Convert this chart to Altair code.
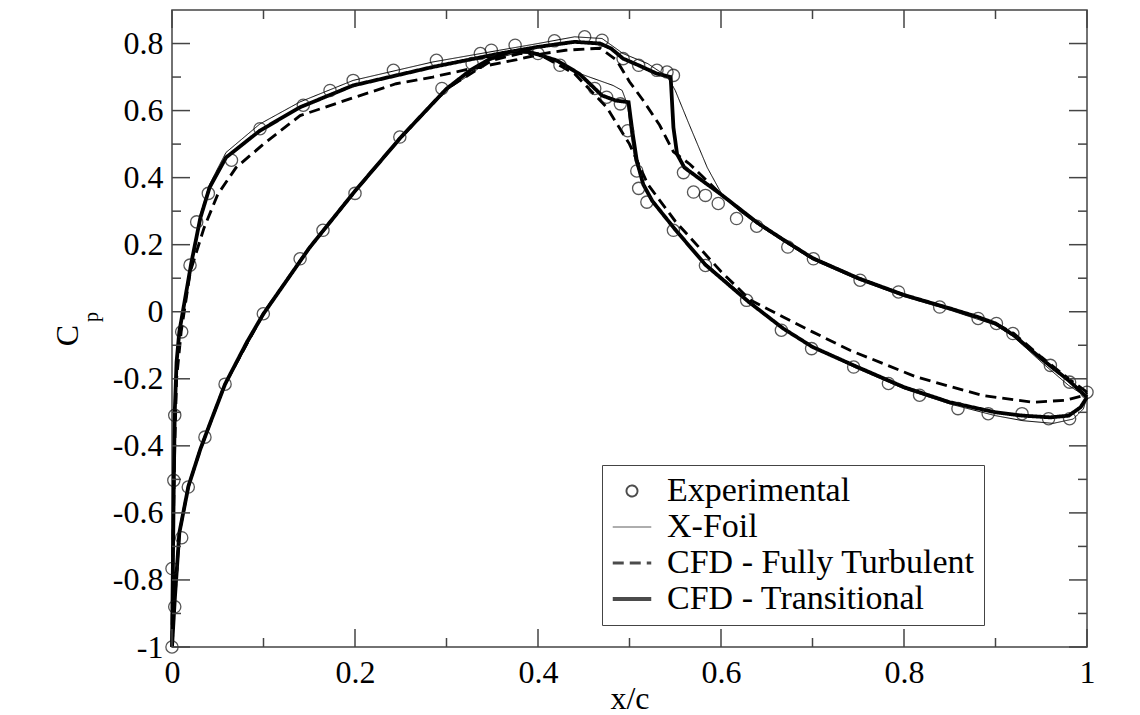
import altair as alt
import pandas as pd

FONT = "Liberation Serif"
FRAME = "#444444"

SERIES = ["Experimental", "X-Foil", "CFD - Fully Turbulent", "CFD - Transitional"]
SCALE_ORDER = ["X-Foil", "Experimental", "CFD - Fully Turbulent", "CFD - Transitional"]

# Experimental Cp data (upper then lower surface)
exp_x = [0.0, 0.003, 0.0, 0.002, 0.003, 0.0106, 0.0197, 0.027, 0.0397, 0.065, 0.0962, 0.1435,
         0.1727, 0.198, 0.242, 0.289, 0.337, 0.349, 0.375, 0.418, 0.451, 0.470, 0.493, 0.51,
         0.53, 0.541, 0.548, 0.559, 0.57, 0.583, 0.597, 0.617, 0.639, 0.673, 0.701, 0.752,
         0.794, 0.839, 0.881, 0.901, 0.919, 0.96, 0.981, 1.0,
         0.0106, 0.0178, 0.036, 0.058, 0.0998, 0.14, 0.165, 0.2, 0.249, 0.295, 0.328, 0.40,
         0.424, 0.462, 0.475, 0.49, 0.498, 0.508, 0.51, 0.519, 0.548, 0.583, 0.628, 0.666,
         0.699, 0.745, 0.783, 0.817, 0.859, 0.892, 0.929, 0.958, 0.981]
exp_y = [-1.0, -0.88, -0.766, -0.503, -0.309, -0.06, 0.139, 0.268, 0.353, 0.452, 0.546, 0.616,
         0.66, 0.69, 0.72, 0.75, 0.77, 0.78, 0.795, 0.808, 0.82, 0.81, 0.755, 0.735,
         0.72, 0.715, 0.705, 0.415, 0.357, 0.347, 0.323, 0.278, 0.255, 0.193, 0.158, 0.094,
         0.059, 0.014, -0.02, -0.035, -0.065, -0.16, -0.21, -0.24,
         -0.674, -0.523, -0.374, -0.216, -0.006, 0.158, 0.243, 0.353, 0.521, 0.666, 0.74, 0.77,
         0.735, 0.666, 0.64, 0.62, 0.54, 0.42, 0.368, 0.327, 0.243, 0.138, 0.034, -0.055,
         -0.11, -0.165, -0.214, -0.249, -0.289, -0.304, -0.304, -0.319, -0.319]

# X-Foil (trailing edge -> upper -> leading edge -> lower -> trailing edge)
xfoil_x = [1.0, 0.98, 0.95, 0.92, 0.90, 0.85, 0.80, 0.75, 0.70, 0.668, 0.64, 0.62, 0.602, 0.585,
           0.565, 0.55, 0.542, 0.52, 0.493, 0.47, 0.44, 0.40, 0.358, 0.285, 0.198, 0.14, 0.096,
           0.059, 0.041, 0.031, 0.021, 0.014, 0.008, 0.005, 0.003, 0.002, 0.001, 0.0,
           0.003, 0.008, 0.018, 0.031, 0.058, 0.1, 0.15, 0.2, 0.25, 0.3, 0.348, 0.38, 0.41, 0.446,
           0.482, 0.492, 0.498, 0.501, 0.506, 0.515, 0.525, 0.55, 0.583, 0.63, 0.668, 0.70, 0.745,
           0.80, 0.85, 0.90, 0.93, 0.963, 0.985, 0.996, 1.0]
xfoil_y = [-0.255, -0.22, -0.15, -0.075, -0.04, 0.005, 0.045, 0.095, 0.155, 0.21, 0.26, 0.30, 0.345, 0.43,
           0.56, 0.66, 0.70, 0.74, 0.77, 0.815, 0.82, 0.80, 0.78, 0.745, 0.69, 0.626, 0.56,
           0.475, 0.38, 0.29, 0.15, 0.04, -0.06, -0.15, -0.3, -0.5, -0.75, -1.0,
           -0.86, -0.67, -0.525, -0.415, -0.22, -0.01, 0.185, 0.355, 0.515, 0.66, 0.75, 0.775, 0.76, 0.71,
           0.675, 0.66, 0.616, 0.54, 0.45, 0.385, 0.335, 0.245, 0.145, 0.035, -0.05, -0.105, -0.165,
           -0.23, -0.275, -0.31, -0.325, -0.333, -0.32, -0.29, -0.255]

# CFD - Fully Turbulent
ft_x = [1.0, 0.98, 0.95, 0.92, 0.90, 0.85, 0.80, 0.75, 0.70, 0.668, 0.64, 0.60, 0.566, 0.548,
        0.533, 0.515, 0.50, 0.486, 0.468, 0.43, 0.406, 0.377, 0.318, 0.285, 0.245, 0.2, 0.14,
        0.1, 0.07, 0.05, 0.035, 0.02, 0.01, 0.005, 0.003, 0.001, 0.0,
        0.003, 0.008, 0.018, 0.031, 0.058, 0.1, 0.15, 0.2, 0.25, 0.3, 0.35, 0.38, 0.40, 0.44,
        0.475, 0.50, 0.52, 0.55, 0.60, 0.632, 0.668, 0.70, 0.741, 0.814, 0.886, 0.941, 0.977,
        0.996, 1.0]
ft_y = [-0.24, -0.2, -0.135, -0.065, -0.035, 0.01, 0.05, 0.10, 0.16, 0.215, 0.265, 0.35, 0.44, 0.477,
        0.556, 0.63, 0.686, 0.75, 0.786, 0.78, 0.77, 0.752, 0.72, 0.70, 0.68, 0.64, 0.585,
        0.50, 0.43, 0.35, 0.25, 0.12, -0.06, -0.2, -0.4, -0.7, -1.0,
        -0.86, -0.66, -0.52, -0.41, -0.215, -0.005, 0.19, 0.36, 0.52, 0.665, 0.75, 0.77, 0.77, 0.71,
        0.61, 0.50, 0.38, 0.27, 0.12, 0.035, -0.016, -0.06, -0.115, -0.195, -0.25, -0.27, -0.264,
        -0.25, -0.24]

# CFD - Transitional
tr_x = [1.0, 0.98, 0.95, 0.92, 0.90, 0.88, 0.85, 0.80, 0.75, 0.70, 0.668, 0.64, 0.60, 0.575,
        0.56, 0.552, 0.548, 0.545, 0.53, 0.51, 0.493, 0.48, 0.468, 0.44, 0.40, 0.358, 0.285,
        0.198, 0.14, 0.096, 0.059, 0.041, 0.031, 0.021, 0.014, 0.008, 0.005, 0.003, 0.002,
        0.001, 0.0,
        0.003, 0.008, 0.018, 0.031, 0.042, 0.058, 0.082, 0.1, 0.15, 0.2, 0.25, 0.3, 0.326, 0.348,
        0.37, 0.391, 0.42, 0.445, 0.47, 0.485, 0.499, 0.503, 0.508, 0.515, 0.525, 0.55, 0.583,
        0.63, 0.668, 0.70, 0.745, 0.80, 0.85, 0.90, 0.93, 0.96, 0.98, 0.993, 1.0]
tr_y = [-0.255, -0.205, -0.14, -0.07, -0.035, -0.015, 0.01, 0.05, 0.10, 0.16, 0.215, 0.265, 0.35, 0.40,
        0.43, 0.47, 0.55, 0.70, 0.71, 0.735, 0.755, 0.785, 0.80, 0.805, 0.79, 0.77, 0.73,
        0.675, 0.61, 0.54, 0.46, 0.37, 0.28, 0.144, 0.034, -0.06, -0.15, -0.3, -0.5,
        -0.75, -1.0,
        -0.86, -0.66, -0.52, -0.41, -0.33, -0.216, -0.09, -0.006, 0.19, 0.36, 0.52, 0.665, 0.72, 0.755,
        0.775, 0.775, 0.75, 0.71, 0.645, 0.63, 0.625, 0.54, 0.45, 0.38, 0.33, 0.245, 0.14,
        0.03, -0.05, -0.105, -0.16, -0.225, -0.27, -0.30, -0.31, -0.315, -0.31, -0.285, -0.255]

X_TICKS = [0, 0.2, 0.4, 0.6, 0.8, 1.0]
X_MINOR = [0.1, 0.3, 0.5, 0.7, 0.9]
Y_TICKS = [-1.0, -0.8, -0.6, -0.4, -0.2, 0.0, 0.2, 0.4, 0.6, 0.8]
Y_MINOR = [-0.9, -0.7, -0.5, -0.3, -0.1, 0.1, 0.3, 0.5, 0.7]

W, H = 915, 637
MAJOR, MINOR = 18, 9

rows = []
for name, xs, ys in [("X-Foil", xfoil_x, xfoil_y),
                     ("CFD - Fully Turbulent", ft_x, ft_y),
                     ("CFD - Transitional", tr_x, tr_y)]:
    for i, (a, b) in enumerate(zip(xs, ys)):
        rows.append({"series": name, "x": a, "y": b, "i": i})
lines_df = pd.DataFrame(rows)
exp_df = pd.DataFrame({"series": "Experimental", "x": exp_x, "y": exp_y})

LINE_SYM = "M-3.5,0H3.5"
shape_range = [LINE_SYM, "circle", LINE_SYM, LINE_SYM]
dash_range = [[1, 0], [1, 0], [11, 6], [1, 0]]

legend_props = dict(title=None, orient="none", legendX=430, legendY=455, values=SERIES)

xscale = alt.Scale(domain=[0, 1], nice=False, zero=False)
yscale = alt.Scale(domain=[-1, 0.9], nice=False, zero=False)

xaxis = alt.Axis(values=X_TICKS, labelExpr="toString(datum.value)", title="x/c",
                 labelPadding=10, titlePadding=-5, labelFlush=False)
yaxis = alt.Axis(values=Y_TICKS, labelExpr="toString(datum.value)", title="C",
                 labelPadding=9, titleAngle=270, titleX=-95, titleY=325,
                 titleAlign="center", titleBaseline="alphabetic", labelFlush=False)

lines = alt.Chart(lines_df).mark_line(color="black", strokeCap="butt").encode(
    x=alt.X("x:Q", scale=xscale, axis=xaxis),
    y=alt.Y("y:Q", scale=yscale, axis=yaxis),
    strokeDash=alt.StrokeDash("series:N", scale=alt.Scale(domain=SCALE_ORDER, range=dash_range),
                              legend=alt.Legend(**legend_props)),
    strokeWidth=alt.StrokeWidth("series:N",
                                scale=alt.Scale(type="point", domain=SCALE_ORDER, range=[1.0, 3.8], padding=0),
                                legend=alt.Legend(**legend_props)),
    order=alt.Order("i:Q"),
)

points = alt.Chart(exp_df).mark_point(filled=False, color="#111111", size=150, strokeWidth=1.3).encode(
    x=alt.X("x:Q", scale=xscale, axis=xaxis),
    y=alt.Y("y:Q", scale=yscale, axis=yaxis),
    shape=alt.Shape("series:N", scale=alt.Scale(domain=SCALE_ORDER, range=shape_range),
                    legend=alt.Legend(**legend_props)),
)

def vticks(vals, y0, y1):
    return alt.Chart(pd.DataFrame({"x": vals})).mark_rule(color=FRAME, strokeWidth=1.5).encode(
        x=alt.X("x:Q", scale=xscale, axis=xaxis), y=alt.value(y0), y2=alt.value(y1))

def hticks(vals, x0, x1):
    return alt.Chart(pd.DataFrame({"y": vals})).mark_rule(color=FRAME, strokeWidth=1.5).encode(
        y=alt.Y("y:Q", scale=yscale, axis=yaxis), x=alt.value(x0), x2=alt.value(x1))

ticks = [
    vticks(X_TICKS, H, H - MAJOR), vticks(X_MINOR, H, H - MINOR),
    vticks(X_TICKS, 0, MAJOR), vticks(X_MINOR, 0, MINOR),
    hticks(Y_TICKS, 0, MAJOR), hticks(Y_MINOR, 0, MINOR),
    hticks(Y_TICKS, W, W - MAJOR), hticks(Y_MINOR, W, W - MINOR),
]

sub_p = alt.Chart(pd.DataFrame({"t": ["p"]})).mark_text(
    angle=270, fontSize=20, font=FONT, baseline="alphabetic", align="center", color="black"
).encode(text="t:N", x=alt.value(-74), y=alt.value(307))

chart = alt.layer(lines, points, *ticks, sub_p).properties(
    width=W, height=H,
    autosize=alt.AutoSizeParams(type="none"),
    padding={"left": 164, "top": 2, "right": 15, "bottom": 74},
).configure_view(
    stroke=FRAME, strokeWidth=1.5
).configure_axis(
    domain=False, ticks=False, grid=False,
    labelFont=FONT, labelFontSize=32, labelColor="black",
    titleFont=FONT, titleFontSize=32, titleFontWeight="normal", titleColor="black",
).configure_legend(
    labelFont=FONT, labelFontSize=34, labelColor="black", labelLimit=500,
    strokeColor=FRAME, fillColor="white", padding=9, rowPadding=2,
    symbolSize=121, symbolStrokeColor="black", symbolOffset=4, labelOffset=18,
    symbolFillColor="transparent",
)

chart.save("out.html", embed_options={"renderer": "svg", "actions": False})
